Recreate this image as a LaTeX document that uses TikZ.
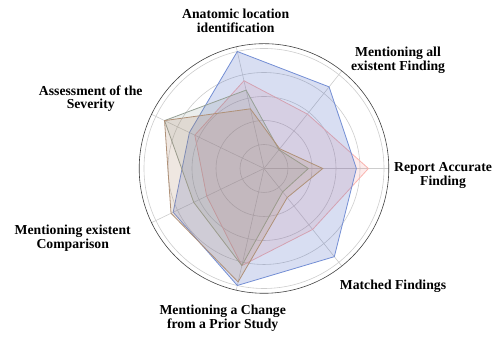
\documentclass[tikz,border=0pt]{standalone}
\usepackage{fontspec}
\setmainfont{Liberation Serif}
\usetikzlibrary{calc}
\definecolor{blueFill}{RGB}{60,90,190}
\definecolor{blueEdge}{RGB}{115,142,212}
\definecolor{pinkFill}{RGB}{240,110,110}
\definecolor{pinkEdge}{RGB}{250,180,175}
\definecolor{greyFill}{RGB}{120,140,125}
\definecolor{greyEdge}{RGB}{150,160,150}
\definecolor{brownFill}{RGB}{175,135,105}
\definecolor{brownEdge}{RGB}{175,145,120}
\definecolor{gridGrey}{RGB}{205,205,205}

\begin{document}
\begin{tikzpicture}[x=120pt, y=120pt,
  lbl/.style={align=center, inner sep=0pt,
    font=\fontsize{13.7}{13.7}\selectfont\bfseries},
  ring/.style={draw=gridGrey, line width=0.6pt},
  series/.style={line width=0.8pt, fill opacity=0.2}]
  \useasboundingbox (-2.2,-1.396) rectangle (1.975,1.404);
  \def\angSep{51.4286}

  % Grid section: nodes
  \coordinate (O) at (0,0);
  \coordinate (RAF-end) at (0:1.04);
  \coordinate (MAF-end) at (\angSep:1.04);
  \coordinate (ALI-end) at (2*\angSep:1.04);
  \coordinate (AoS-end) at (3*\angSep:1.04);
  \coordinate (MEC-end) at (4*\angSep:1.04);
  \coordinate (MCP-end) at (5*\angSep:1.04);
  \coordinate (MF-end) at (6*\angSep:1.04);

  % Grid section: connections
  \draw [ring] (O) circle (0.2);
  \draw [ring] (O) circle (0.4);
  \draw [ring] (O) circle (0.6);
  \draw [ring] (O) circle (0.8);
  \draw [ring] (O) circle (1.0);
  \draw [ring] (O) -- (RAF-end);
  \draw [ring] (O) -- (MAF-end);
  \draw [ring] (O) -- (ALI-end);
  \draw [ring] (O) -- (AoS-end);
  \draw [ring] (O) -- (MEC-end);
  \draw [ring] (O) -- (MCP-end);
  \draw [ring] (O) -- (MF-end);
  \draw [line width=0.6pt, black!75] (O) circle (1.04);

  % Series section: polygons
  \draw [series, fill opacity=0.13, draw=pinkEdge, fill=pinkFill] (0:0.87)
  -- (\angSep:0.58) -- (2*\angSep:0.75) -- (3*\angSep:0.64)
  -- (4*\angSep:0.53) -- (5*\angSep:0.83) -- (6*\angSep:0.65) -- cycle;
  \draw [series, draw=blueEdge, fill=blueFill] (0:0.77) -- (\angSep:0.87)
  -- (2*\angSep:1.0) -- (3*\angSep:0.69) -- (4*\angSep:0.84)
  -- (5*\angSep:1.0) -- (6*\angSep:0.94) -- cycle;
  \draw [series, fill opacity=0.15, draw=greyEdge, fill=greyFill] (0:0.37)
  -- (\angSep:0.2) -- (2*\angSep:0.67) -- (3*\angSep:0.92)
  -- (4*\angSep:0.65) -- (5*\angSep:0.83) -- (6*\angSep:0.25) -- cycle;
  \draw [series, draw=brownEdge, fill=brownFill] (0:0.49) -- (\angSep:0.21)
  -- (2*\angSep:0.51) -- (3*\angSep:0.92) -- (4*\angSep:0.86)
  -- (5*\angSep:0.97) -- (6*\angSep:0.31) -- cycle;

  % Label section: nodes
  \node [lbl] (RAF) at (1.492,-0.06) {Report Accurate\\Finding};
  \node [lbl] (MAF) at (1.117,0.904) {Mentioning all\\existent Finding};
  \node [lbl] (ALI) at (-0.236,1.229) {Anatomic location\\identification};
  \node [lbl] (AoS) at (-1.444,0.583) {Assessment of the\\Severity};
  \node [lbl] (MEC) at (-1.594,-0.579) {Mentioning existent\\Comparison};
  \node [lbl] (MCP) at (-0.344,-1.25) {Mentioning a Change\\from a Prior Study};
  \node [lbl] (MF) at (1.075,-0.979) {Matched Findings};
\end{tikzpicture}
\end{document}
